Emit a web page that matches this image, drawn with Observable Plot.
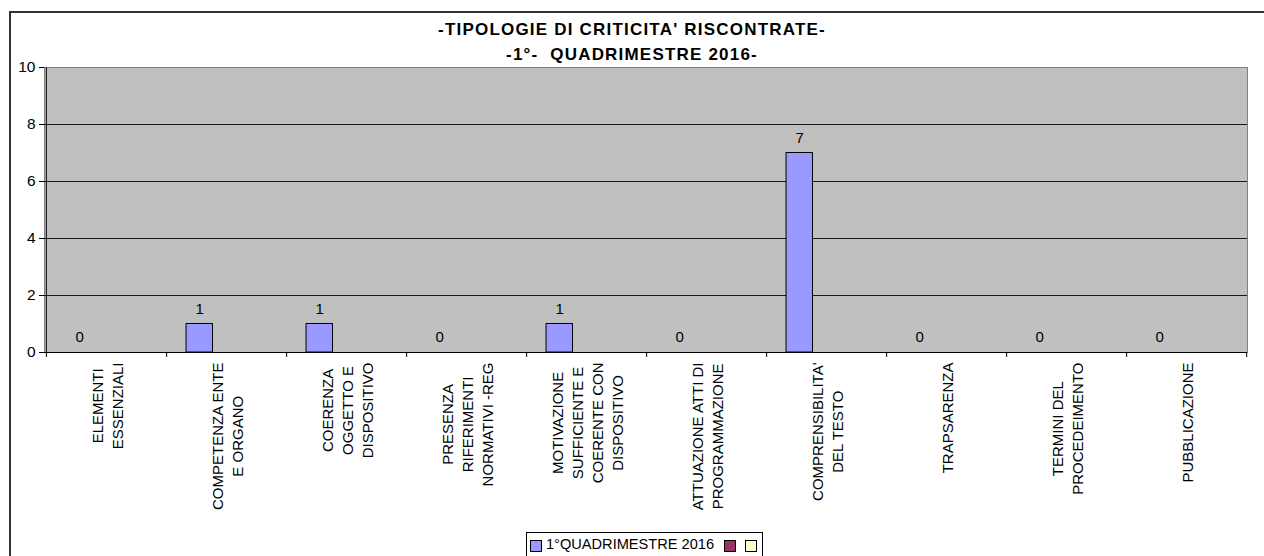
<!DOCTYPE html>
<html>
<head>
<meta charset="utf-8">
<script src="https://cdn.jsdelivr.net/npm/d3@7"></script>
<script src="https://cdn.jsdelivr.net/npm/@observablehq/plot@0.6"></script>
<style>
  html, body { margin: 0; padding: 0; background: #fff; }
  #chart { position: relative; width: 1264px; height: 556px; overflow: hidden; font-family: "Liberation Sans", Arial, sans-serif; }
  #outer { position: absolute; left: 9px; top: 11px; width: 1300px; height: 600px; border-top: 2px solid #333; border-left: 2px solid #333; box-sizing: border-box; }
  .title { position: absolute; left: 0; width: 1264px; text-align: center; font-weight: bold; font-size: 17px; letter-spacing: 1.2px; line-height: 25px; color: #000; white-space: pre; }
  #plot { position: absolute; left: 0; top: 0; }
  #legend { position: absolute; left: 526px; top: 532px; width: 237px; height: 30px; border: 1px solid #000; box-sizing: border-box; font-size: 14.6px; display: flex; align-items: flex-start; padding: 3px 0 0 3px; white-space: nowrap; }
  .sw { display: inline-block; width: 10px; height: 10px; border: 1px solid #000; margin-top: 4px; flex: none; }
</style>
</head>
<body>
<div id="chart">
  <div id="outer"></div>
  <div class="title" id="t1" style="top:17px"></div>
  <div class="title" id="t2" style="top:42px"></div>
  <div id="plot"></div>
  <div id="legend"></div>
</div>
<script>
const titleLines = ["-TIPOLOGIE DI CRITICITA' RISCONTRATE-", "-1°-  QUADRIMESTRE 2016-"];
const categories = [
  "ELEMENTI\nESSENZIALI",
  "COMPETENZA ENTE\nE ORGANO",
  "COERENZA\nOGGETTO E\nDISPOSITIVO",
  "PRESENZA\nRIFERIMENTI\nNORMATIVI -REG",
  "MOTIVAZIONE\nSUFFICIENTE E\nCOERENTE CON\nDISPOSITIVO",
  "ATTUAZIONE ATTI DI\nPROGRAMMAZIONE",
  "COMPRENSIBILITA'\nDEL TESTO",
  "TRAPSARENZA",
  "TERMINI DEL\nPROCEDEIMENTO",
  "PUBBLICAZIONE"
];
const values = [0, 1, 1, 0, 1, 0, 7, 0, 0, 0];
const seriesNames = ["1°QUADRIMESTRE 2016", "", ""];
const seriesColors = ["#9999FF", "#993366", "#FFFFCC"];
const yTicks = [0, 2, 4, 6, 8, 10];

const data = categories.map((c, i) => ({cat: c, value: values[i]}));

const W = 1264, H = 556, ML = 44, MR = 17, MT = 67, MB = 204;
const step = (W - ML - MR) / categories.length;
const nSeries = seriesNames.length;
const groupW = step / 1.5;           // Excel gap width 50%
const barW = groupW / nSeries;
const outerGap = (step - groupW) / 2;
const barCenterOffset = outerGap + barW / 2 - step / 2;

document.getElementById("t1").textContent = titleLines[0];
document.getElementById("t2").textContent = titleLines[1];

const plot = Plot.plot({
  width: W, height: H,
  marginTop: MT, marginRight: MR, marginBottom: MB, marginLeft: ML,
  style: {fontFamily: "'Liberation Sans', Arial, sans-serif", fontSize: "15px", background: "transparent", color: "#000"},
  x: {domain: categories, padding: 0, label: null},
  y: {domain: [0, 10], label: null},
  marks: [
    Plot.frame({fill: "#C0C0C0", stroke: "#808080"}),
    Plot.ruleY(yTicks.filter(v => v > 0 && v < 10), {stroke: "#1a1a1a"}),
    Plot.barY(data, {x: "cat", y: "value", fill: seriesColors[0], stroke: "#000", strokeWidth: 1,
      insetLeft: outerGap, insetRight: step - outerGap - barW}),
    Plot.text(data, {x: "cat", y: "value", text: d => String(d.value), dx: barCenterOffset, dy: -15, fontSize: 15, fill: "#000"}),
    Plot.ruleY([0], {stroke: "#000"}),
    Plot.ruleX([categories[0]], {dx: -step / 2, stroke: "#000"}),
    Plot.axisY({ticks: yTicks, tickSize: 5, tickPadding: 4, fontSize: 15.5, label: null}),
    Plot.axisX({ticks: categories, tickSize: 5, dx: step / 2, tickFormat: () => "", label: null}),
    Plot.axisX({ticks: [categories[0]], tickSize: 5, dx: -step / 2, tickFormat: () => "", label: null}),
    Plot.text(categories, {x: d => d, frameAnchor: "bottom", dy: 10, rotate: -90, textAnchor: "middle",
      lineAnchor: "middle", lineHeight: 1.35, fontSize: 15, fill: "#000"})
  ]
});
document.getElementById("plot").appendChild(plot);

// center each multi-line rotated label block below the axis (Excel style)
const flatCats = new Set(categories.map(c => c.replace(/\n/g, "")));
plot.querySelectorAll("text").forEach(t => {
  if (!flatCats.has(t.textContent)) return;
  const spans = t.querySelectorAll("tspan");
  let L = 0;
  if (spans.length) spans.forEach(s => { L = Math.max(L, s.getComputedTextLength()); });
  else L = t.getComputedTextLength();
  const tr = t.getAttribute("transform") || "";
  t.setAttribute("transform", tr + ` translate(${-L / 2},0)`);
});

// legend
const legend = document.getElementById("legend");
seriesNames.forEach((name, i) => {
  const sw = document.createElement("span");
  sw.className = "sw";
  sw.style.background = seriesColors[i];
  sw.style.marginLeft = i === 0 ? "0px" : (i === 1 ? "10px" : "9px");
  legend.appendChild(sw);
  if (name) {
    const tx = document.createElement("span");
    tx.textContent = name;
    tx.style.marginLeft = "4px";
    legend.appendChild(tx);
  }
});
</script>
</body>
</html>
